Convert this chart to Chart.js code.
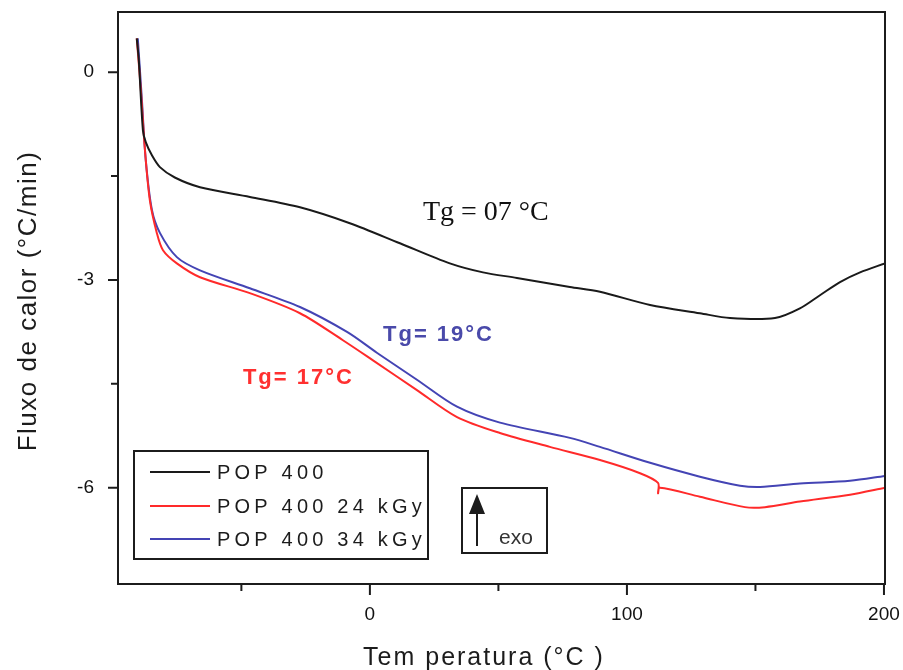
<!DOCTYPE html>
<html lang="pt">
<head>
    <meta charset="UTF-8">
    <title>Fluxo de calor - POP 400</title>
    <script src="https://cdn.jsdelivr.net/npm/chart.js"></script>
    <style>
        body { margin: 0; background: #fff; }
        #chart { display: block; }
    </style>
</head>
<body>
    <canvas id="chart" width="903" height="670"></canvas>

    <script>
        // valores (temperatura em °C, fluxo em °C/min)
        const blackTemp = [-90.7, -89.9, -88.3, -87.2, -84.8, -81.7, -75.9, -66.1, -46.7, -27.2, -7.8, 11.7, 31.1, 44.0, 57.2, 77.8, 89.5, 109.0, 128.4, 140.1, 157.6, 167.3, 175.1, 182.9, 190.7, 200.4];
        const blackFlux = [0.49, 0.17, -0.84, -1.01, -1.20, -1.37, -1.52, -1.66, -1.80, -1.95, -2.18, -2.47, -2.76, -2.89, -2.97, -3.10, -3.17, -3.36, -3.48, -3.55, -3.55, -3.41, -3.22, -3.03, -2.89, -2.76];

        const redTemp = [-90.7, -89.1, -87.5, -85.6, -82.9, -80.5, -75.1, -66.1, -46.7, -27.2, -10.5, 1.2, 18.3, 33.9, 50.6, 70.0, 89.5, 105.1, 112.1, 112.1, 112.8, 128.4, 145.9, 153.7, 167.3, 186.8, 200.4];
        const redFlux = [0.49, -0.26, -1.13, -1.85, -2.32, -2.57, -2.76, -2.96, -3.19, -3.48, -3.87, -4.16, -4.59, -4.98, -5.21, -5.41, -5.60, -5.79, -5.93, -6.08, -6.00, -6.13, -6.28, -6.28, -6.20, -6.10, -6.00];

        const blueTemp = [-90.3, -88.7, -87.2, -84.8, -81.7, -75.1, -66.1, -46.7, -27.2, -8.9, 2.7, 18.3, 33.9, 50.6, 77.8, 89.5, 109.0, 128.4, 144.0, 151.8, 167.3, 186.8, 200.4];
        const blueFlux = [0.49, -0.40, -1.27, -1.99, -2.32, -2.67, -2.86, -3.12, -3.39, -3.75, -4.05, -4.44, -4.83, -5.06, -5.28, -5.41, -5.64, -5.84, -5.97, -5.99, -5.94, -5.90, -5.83];

        const seriesLabels = ['POP 400', 'POP 400 24 kGy', 'POP 400 34 kGy'];
        const seriesColors = ['#1a1a1a', '#ff2a2a', '#4444b4'];

        const xTicks = [0, 100, 200];
        const xMinorTicks = [-50, 50, 150];
        const yTicks = [0, -3, -6];
        const yMinorTicks = [-1.5, -4.5];

        const toPoints = (xs, ys) => xs.map((x, i) => ({ x: x, y: ys[i] }));

        const FONT = '"Liberation Sans", Arial, sans-serif';
        const INK = '#1c1c1c';

        function noPadding(s) {
            s.paddingLeft = 0;
            s.paddingRight = 0;
            s.paddingTop = 0;
            s.paddingBottom = 0;
        }

        // moldura, marcas dos eixos, títulos, legenda e anotações
        const decor = {
            id: 'decor',
            afterDraw(chart) {
                const ctx = chart.ctx;
                const a = chart.chartArea;
                const xs = chart.scales.x, ys = chart.scales.y;
                ctx.save();
                ctx.strokeStyle = INK;
                ctx.lineWidth = 2;
                ctx.strokeRect(a.left, a.top, a.right - a.left, a.bottom - a.top);

                ctx.beginPath();
                xTicks.forEach(v => { const p = xs.getPixelForValue(v); ctx.moveTo(p, a.bottom); ctx.lineTo(p, a.bottom + 11); });
                xMinorTicks.forEach(v => { const p = xs.getPixelForValue(v); ctx.moveTo(p, a.bottom); ctx.lineTo(p, a.bottom + 7); });
                yTicks.forEach(v => { const p = ys.getPixelForValue(v); ctx.moveTo(a.left, p); ctx.lineTo(a.left - 10, p); });
                yMinorTicks.forEach(v => { const p = ys.getPixelForValue(v); ctx.moveTo(a.left, p); ctx.lineTo(a.left - 7, p); });
                ctx.stroke();

                // títulos dos eixos
                ctx.fillStyle = INK;
                ctx.textBaseline = 'middle';
                ctx.textAlign = 'center';
                ctx.font = '25px ' + FONT;
                ctx.letterSpacing = '2px';
                ctx.fillText('Tem peratura (°C )', 484, 658);
                ctx.save();
                ctx.translate(29, 301);
                ctx.rotate(-Math.PI / 2);
                ctx.font = '26px ' + FONT;
                ctx.letterSpacing = '1.5px';
                ctx.fillText('Fluxo de calor (°C/min)', 0, 0);
                ctx.restore();

                // legenda
                ctx.lineWidth = 2;
                ctx.strokeRect(134, 451, 294, 108);
                ctx.font = '20px ' + FONT;
                ctx.letterSpacing = '4.2px';
                ctx.textAlign = 'left';
                const rows = [472, 506, 539];
                chart.data.datasets.forEach((ds, i) => {
                    ctx.strokeStyle = ds.borderColor;
                    ctx.lineWidth = 2;
                    ctx.beginPath();
                    ctx.moveTo(150, rows[i]);
                    ctx.lineTo(210, rows[i]);
                    ctx.stroke();
                    ctx.fillStyle = INK;
                    ctx.fillText(ds.label, 217, rows[i] + 1);
                });

                // caixa exo
                ctx.strokeStyle = INK;
                ctx.strokeRect(462, 488, 85, 65);
                ctx.beginPath();
                ctx.moveTo(477, 546);
                ctx.lineTo(477, 510);
                ctx.stroke();
                ctx.fillStyle = INK;
                ctx.beginPath();
                ctx.moveTo(477, 494);
                ctx.lineTo(469, 514);
                ctx.lineTo(485, 514);
                ctx.closePath();
                ctx.fill();
                ctx.font = '21px ' + FONT;
                ctx.letterSpacing = '0px';
                ctx.fillStyle = '#333';
                ctx.fillText('exo', 499, 538);

                // anotações Tg
                ctx.textAlign = 'center';
                ctx.fillStyle = '#111';
                ctx.font = '28px "Liberation Serif", "Times New Roman", serif';
                ctx.fillText('Tg = 07 °C', xs.getPixelForValue(45.1), ys.getPixelForValue(-2.03));
                ctx.textAlign = 'left';
                ctx.font = 'bold 22px ' + FONT;
                ctx.letterSpacing = '2px';
                ctx.fillStyle = '#4a4aaa';
                ctx.fillText('Tg= 19°C', xs.getPixelForValue(5.1), ys.getPixelForValue(-3.80));
                ctx.fillStyle = '#ff3030';
                ctx.fillText('Tg= 17°C', xs.getPixelForValue(-49.4), ys.getPixelForValue(-4.42));
                ctx.restore();
            }
        };

        new Chart(document.getElementById('chart').getContext('2d'), {
            type: 'line',
            data: {
                datasets: [
                    { label: seriesLabels[0], data: toPoints(blackTemp, blackFlux), borderColor: seriesColors[0] },
                    { label: seriesLabels[1], data: toPoints(redTemp, redFlux), borderColor: seriesColors[1] },
                    { label: seriesLabels[2], data: toPoints(blueTemp, blueFlux), borderColor: seriesColors[2] }
                ].map(ds => Object.assign(ds, { borderWidth: 2, pointRadius: 0, tension: 0.3, fill: false }))
            },
            options: {
                responsive: false,
                animation: false,
                layout: { padding: { top: 12, right: 18, left: 0, bottom: 0 } },
                plugins: {
                    legend: { display: false },
                    tooltip: { enabled: false }
                },
                scales: {
                    x: {
                        type: 'linear',
                        min: -98,
                        max: 200.4,
                        afterBuildTicks: s => { s.ticks = xTicks.map(v => ({ value: v })); },
                        afterFit: s => { s.height = 86; noPadding(s); },
                        grid: { display: false, drawTicks: false },
                        border: { display: false },
                        ticks: { padding: 19, color: '#111', font: { family: FONT, size: 19 }, maxRotation: 0 }
                    },
                    y: {
                        type: 'linear',
                        min: -7.39,
                        max: 0.87,
                        afterBuildTicks: s => { s.ticks = yTicks.map(v => ({ value: v })); },
                        afterFit: s => { s.width = 118; noPadding(s); },
                        grid: { display: false, drawTicks: false },
                        border: { display: false },
                        ticks: { padding: 24, color: '#111', font: { family: FONT, size: 19 } }
                    }
                }
            },
            plugins: [decor]
        });
    </script>
</body>
</html>
